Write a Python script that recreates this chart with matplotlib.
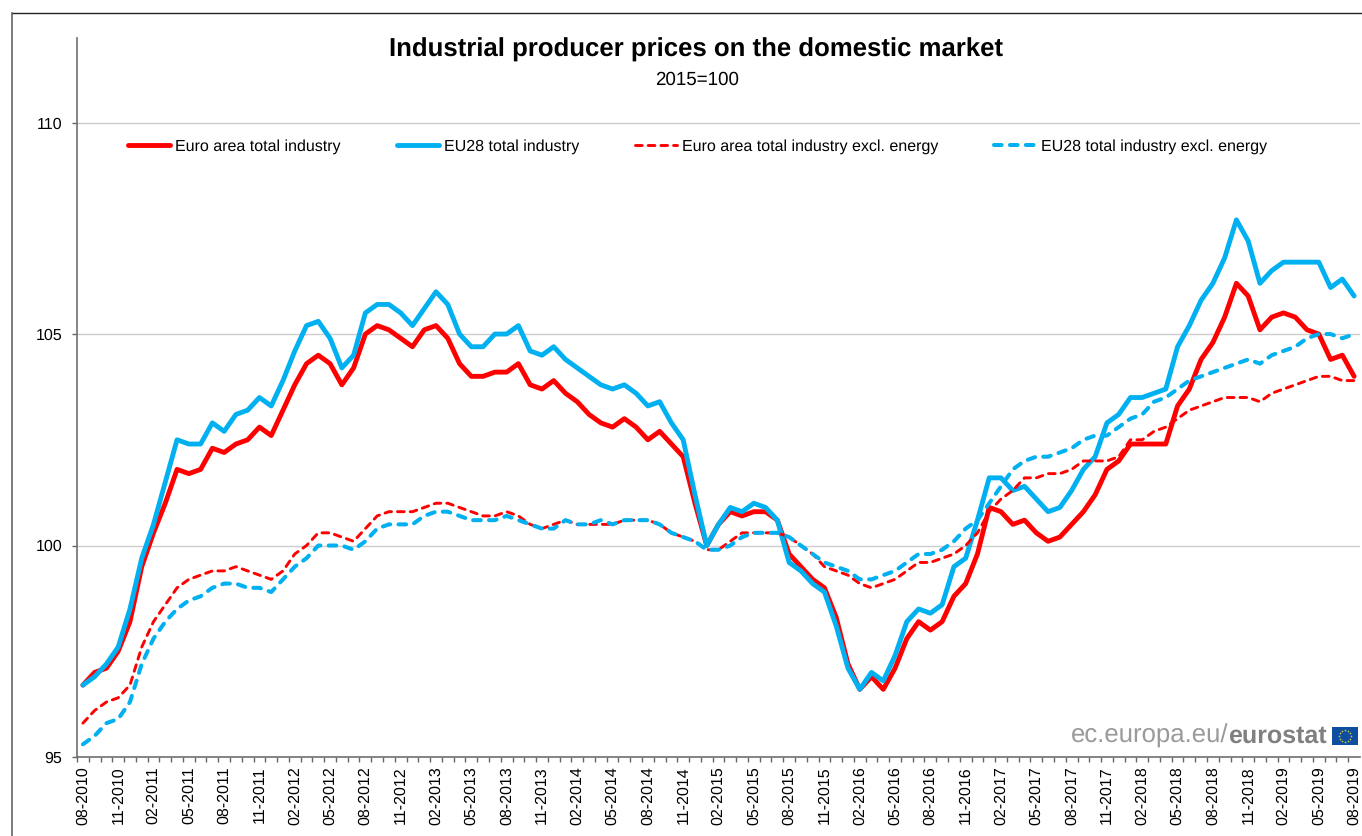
import matplotlib
matplotlib.use("Agg")
import matplotlib.pyplot as plt
from matplotlib.lines import Line2D
import numpy as np
import pandas as pd

plt.rcParams['font.family'] = ['Liberation Sans', 'DejaVu Sans']
plt.rcParams['text.hinting'] = 'no_hinting'

months = pd.date_range('2010-08-01', periods=109, freq='MS').strftime('%m-%Y').tolist()

ea_total = [96.7, 97.0, 97.1, 97.5, 98.2, 99.5, 100.3, 101.0, 101.8, 101.7,
            101.8, 102.3, 102.2, 102.4, 102.5, 102.8, 102.6, 103.2, 103.8, 104.3,
            104.5, 104.3, 103.8, 104.2, 105.0, 105.2, 105.1, 104.9, 104.7, 105.1,
            105.2, 104.9, 104.3, 104.0, 104.0, 104.1, 104.1, 104.3, 103.8, 103.7,
            103.9, 103.6, 103.4, 103.1, 102.9, 102.8, 103.0, 102.8, 102.5, 102.7,
            102.4, 102.1, 101.0, 100.0, 100.5, 100.8, 100.7, 100.8, 100.8, 100.6,
            99.8, 99.5, 99.2, 99.0, 98.3, 97.2, 96.6, 96.9, 96.6, 97.1,
            97.8, 98.2, 98.0, 98.2, 98.8, 99.1, 99.8, 100.9, 100.8, 100.5,
            100.6, 100.3, 100.1, 100.2, 100.5, 100.8, 101.2, 101.8, 102.0, 102.4,
            102.4, 102.4, 102.4, 103.3, 103.7, 104.4, 104.8, 105.4, 106.2, 105.9,
            105.1, 105.4, 105.5, 105.4, 105.1, 105.0, 104.4, 104.5, 104.0]

eu_total = [96.7, 96.9, 97.2, 97.6, 98.5, 99.7, 100.5, 101.5, 102.5, 102.4,
            102.4, 102.9, 102.7, 103.1, 103.2, 103.5, 103.3, 103.9, 104.6, 105.2,
            105.3, 104.9, 104.2, 104.5, 105.5, 105.7, 105.7, 105.5, 105.2, 105.6,
            106.0, 105.7, 105.0, 104.7, 104.7, 105.0, 105.0, 105.2, 104.6, 104.5,
            104.7, 104.4, 104.2, 104.0, 103.8, 103.7, 103.8, 103.6, 103.3, 103.4,
            102.9, 102.5, 101.2, 100.0, 100.5, 100.9, 100.8, 101.0, 100.9, 100.6,
            99.6, 99.4, 99.1, 98.9, 98.1, 97.1, 96.6, 97.0, 96.8, 97.4,
            98.2, 98.5, 98.4, 98.6, 99.5, 99.7, 100.6, 101.6, 101.6, 101.3,
            101.4, 101.1, 100.8, 100.9, 101.3, 101.8, 102.1, 102.9, 103.1, 103.5,
            103.5, 103.6, 103.7, 104.7, 105.2, 105.8, 106.2, 106.8, 107.7, 107.2,
            106.2, 106.5, 106.7, 106.7, 106.7, 106.7, 106.1, 106.3, 105.9]

ea_excl = [95.8, 96.1, 96.3, 96.4, 96.7, 97.6, 98.2, 98.6, 99.0, 99.2,
           99.3, 99.4, 99.4, 99.5, 99.4, 99.3, 99.2, 99.4, 99.8, 100.0,
           100.3, 100.3, 100.2, 100.1, 100.4, 100.7, 100.8, 100.8, 100.8, 100.9,
           101.0, 101.0, 100.9, 100.8, 100.7, 100.7, 100.8, 100.7, 100.5, 100.4,
           100.5, 100.6, 100.5, 100.5, 100.5, 100.5, 100.6, 100.6, 100.6, 100.5,
           100.3, 100.2, 100.1, 99.9, 99.9, 100.1, 100.3, 100.3, 100.3, 100.3,
           100.2, 100.0, 99.8, 99.5, 99.4, 99.3, 99.1, 99.0, 99.1, 99.2,
           99.4, 99.6, 99.6, 99.7, 99.8, 100.0, 100.3, 100.8, 101.1, 101.3,
           101.6, 101.6, 101.7, 101.7, 101.8, 102.0, 102.0, 102.0, 102.1, 102.5,
           102.5, 102.7, 102.8, 103.0, 103.2, 103.3, 103.4, 103.5, 103.5, 103.5,
           103.4, 103.6, 103.7, 103.8, 103.9, 104.0, 104.0, 103.9, 103.9]

eu_excl = [95.3, 95.5, 95.8, 95.9, 96.3, 97.2, 97.8, 98.2, 98.5, 98.7,
           98.8, 99.0, 99.1, 99.1, 99.0, 99.0, 98.9, 99.2, 99.5, 99.7,
           100.0, 100.0, 100.0, 99.9, 100.1, 100.4, 100.5, 100.5, 100.5, 100.7,
           100.8, 100.8, 100.7, 100.6, 100.6, 100.6, 100.7, 100.6, 100.5, 100.4,
           100.4, 100.6, 100.5, 100.5, 100.6, 100.5, 100.6, 100.6, 100.6, 100.5,
           100.3, 100.2, 100.1, 99.9, 99.9, 100.0, 100.2, 100.3, 100.3, 100.3,
           100.2, 100.0, 99.8, 99.6, 99.5, 99.4, 99.2, 99.2, 99.3, 99.4,
           99.6, 99.8, 99.8, 99.9, 100.1, 100.4, 100.6, 101.0, 101.4, 101.8,
           102.0, 102.1, 102.1, 102.2, 102.3, 102.5, 102.6, 102.6, 102.8, 103.0,
           103.1, 103.4, 103.5, 103.7, 103.9, 104.0, 104.1, 104.2, 104.3, 104.4,
           104.3, 104.5, 104.6, 104.7, 104.9, 105.0, 105.0, 104.9, 105.0]

RED = '#ff0000'
BLUE = '#00b0f0'
W, H = 1362, 836

fig = plt.figure(figsize=(W / 100, H / 100), dpi=100)
ax = fig.add_axes([77 / W, 1 - 757 / H, (1360 - 77) / W, (757 - 38) / H])

x = np.arange(len(months))
ax.plot(x, ea_total, color=RED, lw=3.5, label='Euro area total industry',
        solid_capstyle='round', solid_joinstyle='round')
ax.plot(x, eu_total, color=BLUE, lw=3.5, label='EU28 total industry',
        solid_capstyle='round', solid_joinstyle='round')
ax.plot(x, ea_excl, color=RED, lw=2.1, ls=(0, (2.3, 2.05)), dash_capstyle='round',
        label='Euro area total industry excl. energy')
ax.plot(x, eu_excl, color=BLUE, lw=2.9, ls=(0, (1.9, 2.05)), dash_capstyle='round',
        label='EU28 total industry excl. energy')

ax.set_xlim(-0.5, len(months) - 0.5)
ax.set_ylim(95, 112)
ax.set_yticks([95, 100, 105, 110])
ax.set_xticks(x[::3])
ax.set_xticklabels(months[::3], rotation=90)
ax.set_xticks(x - 0.5, minor=True)
ax.tick_params(axis='x', which='major', length=0, pad=7, labelsize=11.5, colors='#000000')
ax.tick_params(axis='x', which='minor', length=3.6, width=1, color='#666666')
ax.tick_params(axis='y', length=3.6, width=1, color='#666666', pad=7, labelsize=11.5)
ax.grid(axis='y', color='#cccccc', lw=1)
ax.set_axisbelow(True)
for s in ['top', 'right']:
    ax.spines[s].set_visible(False)
for s in ['left', 'bottom']:
    ax.spines[s].set_color('#707070')
    ax.spines[s].set_linewidth(1.2)

ax.legend(loc='center left', bbox_to_anchor=((128 - 77) / 1283, (757 - 146.5) / 719), ncol=4, frameon=False,
          fontsize=11.5, handlelength=2.65, handletextpad=0.3, columnspacing=3.5,
          borderaxespad=0, borderpad=0)

fig.text(696 / W, 1 - 49.5 / H, 'Industrial producer prices on the domestic market',
         ha='center', va='center', fontsize=18.5, fontweight='bold')
fig.text(697.5 / W, 1 - 80 / H, '2015=100', ha='center', va='center', fontsize=13.5)

# outer frame of the chart
fig.add_artist(Line2D([12 / W, 1], [1 - 13 / H, 1 - 13 / H], color='#222222', lw=1))
fig.add_artist(Line2D([12 / W, 12 / W], [0, 1 - 13 / H], color='#666666', lw=1.2))

# eurostat logo
fig.text(1228 / W, 1 - 736 / H, 'ec.europa.eu/', ha='right', va='center', fontsize=18.5, color='#9a9a9a')
fig.text(1228 / W, 1 - 736 / H, 'eurostat', ha='left', va='center', fontsize=18,
         fontweight='bold', color='#808080')
flag = fig.add_axes([1332 / W, 1 - 745 / H, 26 / W, 18 / H])
flag.set_facecolor('#0f4da0')
flag.set_xlim(-1.45, 1.45)
flag.set_ylim(-1, 1)
flag.set_xticks([])
flag.set_yticks([])
for s in flag.spines.values():
    s.set_visible(False)
a = np.arange(12) * np.pi / 6
flag.scatter(0.68 * np.cos(a), 0.68 * np.sin(a), s=1.5, color='#c8c83c', linewidths=0)

fig.savefig('out.png', dpi=100)
